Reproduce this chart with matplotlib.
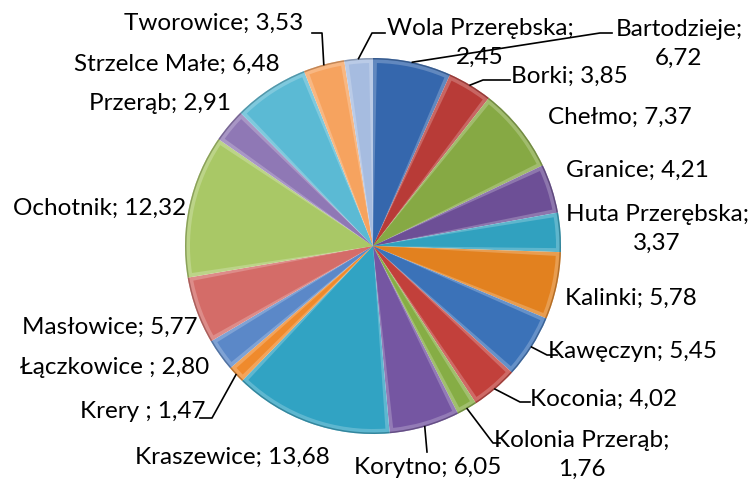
import numpy as np
import matplotlib.pyplot as plt
from matplotlib.patches import Wedge
from matplotlib.colors import to_rgb

plt.rcParams['font.family'] = ['Lato', 'DejaVu Sans']

# ============================
# DANE
# ============================

names = ['Bartodzieje', 'Borki', 'Chełmo', 'Granice', 'Huta Przerębska',
         'Kalinki', 'Kawęczyn', 'Koconia', 'Kolonia Przerąb', 'Korytno',
         'Kraszewice', 'Krery ', 'Łączkowice ', 'Masłowice', 'Ochotnik',
         'Przerąb', 'Strzelce Małe', 'Tworowice', 'Wola Przerębska']
values = [6.72, 3.85, 7.37, 4.21, 3.37, 5.78, 5.45, 4.02, 1.76, 6.05,
          13.68, 1.47, 2.80, 5.77, 12.32, 2.91, 6.48, 3.53, 2.45]
colors = ['#3567AD', '#B83B37', '#86A944', '#6D4F96', '#31A1BF', '#E2811F',
          '#3B72B8', '#C2403B', '#86AD45', '#7556A2', '#31A3C3', '#EF8A2C',
          '#5B88C8', '#D46C68', '#A9C866', '#8F78B5', '#5BBAD4', '#F6A35F',
          '#A6BCE0']

# ============================
# UKŁAD (piksele obrazu)
# ============================

W, H = 755, 482
cx, cy, R = 373, 246, 188

# środek etykiety (x, y), podział na 2 linie
label_pos = {
    'Bartodzieje': (679, 44, True),
    'Borki': (569, 76, False),
    'Chełmo': (620, 117, False),
    'Granice': (637, 170, False),
    'Huta Przerębska': (657, 229, True),
    'Kalinki': (631, 298, False),
    'Kawęczyn': (632, 352, False),
    'Koconia': (604, 399, False),
    'Kolonia Przerąb': (582, 455, True),
    'Korytno': (428, 468, False),
    'Kraszewice': (232, 457, False),
    'Krery ': (143, 412, False),
    'Łączkowice ': (115, 368, False),
    'Masłowice': (110, 327, False),
    'Ochotnik': (100, 208, False),
    'Przerąb': (160, 104, False),
    'Strzelce Małe': (177, 64, False),
    'Tworowice': (214, 23, False),
    'Wola Przerębska': (480, 43, True),
}

# linie odniesienia: punkt załamania, koniec
leaders = {
    'Bartodzieje': ((600, 33), (612, 33)),
    'Borki': ((483, 80), (510, 80)),
    'Wola Przerębska': ((372, 33), (385, 33)),
    'Tworowice': ((322, 33), (312, 33)),
    'Kawęczyn': ((547, 355), (557, 355)),
    'Koconia': ((520, 402), (530, 402)),
    'Kolonia Przerąb': ((493, 443), (500, 443)),
    'Korytno': ((427, 452), (427, 452)),
    'Krery ': ((212, 418), (200, 418)),
}


def shade(c, f):
    r = np.array(to_rgb(c))
    if f > 0:
        return tuple(r + (1 - r) * f)
    return tuple(r * (1 + f))


# ============================
# WYKRES
# ============================

fig = plt.figure(figsize=(W / 100, H / 100), dpi=100)
ax = fig.add_axes([0, 0, 1, 1])

wedges, _ = ax.pie(
    values,
    colors=[shade(c, 0.22) for c in colors],
    startangle=90,
    counterclock=False,
    center=(cx, H - cy),
    radius=R,
    wedgeprops=dict(edgecolor='none', linewidth=0),
)
ax.set_xlim(0, W)
ax.set_ylim(0, H)
ax.set_aspect('equal')
ax.axis('off')

# efekt fazowania
for w, c in zip(wedges, colors):
    t1, t2 = w.theta1, w.theta2
    span = t2 - t1
    ins = min(np.degrees(4 / R), span * 0.25)
    ax.add_patch(Wedge(w.center, w.r - 5, t1 + ins, t2 - ins,
                       facecolor=c, edgecolor='none'))
    ax.add_patch(Wedge(w.center, w.r, t1, t2, width=1.5,
                       facecolor=shade(c, -0.3), edgecolor='none', alpha=0.7))

# etykiety
for name, v, w in zip(names, values, wedges):
    x, y, two = label_pos[name]
    val = f'{v:.2f}'.replace('.', ',')
    txt = f'{name};\n{val}' if two else f'{name}; {val}'
    ax.text(x, H - y, txt, ha='center', va='center', fontsize=17.5,
            color='black', linespacing=1.45)
    if name in leaders:
        ang = np.radians((w.theta1 + w.theta2) / 2)
        x0 = w.center[0] + w.r * np.cos(ang)
        y0 = w.center[1] + w.r * np.sin(ang)
        (ex, ey), (tx, ty) = leaders[name]
        ax.plot([x0, ex, tx], [y0, H - ey, H - ty], color='black', lw=1.2)

fig.savefig('out.png', dpi=100)
